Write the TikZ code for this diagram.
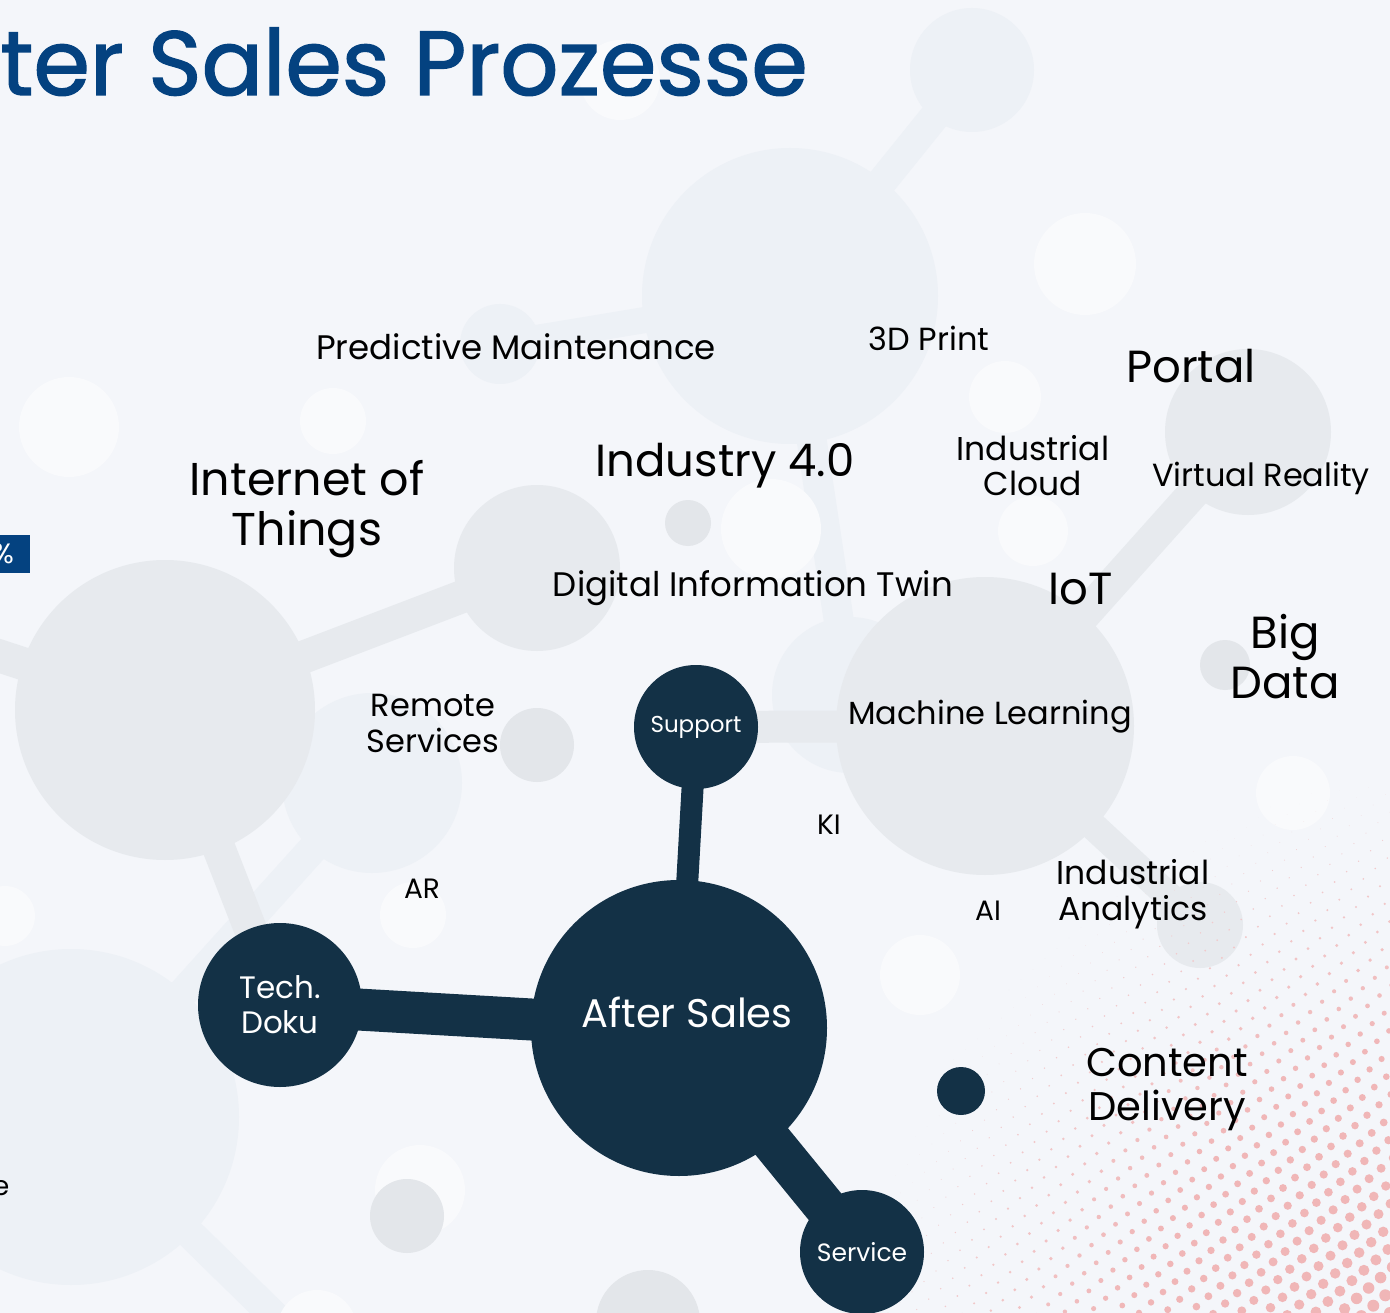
\documentclass[tikz,border=0pt]{standalone}
\usepackage{fontspec}
\setmainfont{Poppins}
\newfontfamily\titlefont{Poppins}[FakeBold=1.5]
\usepackage{tikz}

\definecolor{paper}{RGB}{244,246,250}
\definecolor{navy}{RGB}{19,49,70}
\definecolor{titleblue}{RGB}{4,66,128}
\definecolor{molgray}{RGB}{231,234,238}
\definecolor{molpale}{RGB}{237,241,246}
\definecolor{moldark}{RGB}{227,230,234}
\definecolor{molwhite}{RGB}{249,250,252}
\definecolor{dotpink}{RGB}{240,182,183}

\tikzset{
  blob/.style 2 args={circle,fill=#1,inner sep=0pt,minimum size=#2},
  bond/.style 2 args={draw=#1,line width=#2,shorten <=-6pt,shorten >=-6pt},
  hub/.style={circle,fill=navy,text=white,inner sep=0pt,minimum size=#1,align=center},
  hubtxt/.style={text=white,font=\fontsize{40}{44}\selectfont},
  link/.style={draw=navy,line width=#1,shorten <=-8pt,shorten >=-8pt},
  lbl/.style 2 args={font=\fontsize{#1}{#2}\selectfont,align=center,inner sep=0pt},
}

\begin{document}
\begin{tikzpicture}[x=1pt,y=-1pt]
  \useasboundingbox (0,0) rectangle (1390,1313);
  \clip (0,0) rectangle (1390,1313);
  \fill[paper] (0,0) rectangle (1390,1313);

  % pale part of the molecule
  \node[blob={molpale}{296pt}] (hubtop) at (790,296) {};
  \node[blob={molpale}{124pt}] (knobtop) at (972,70) {};
  \node[blob={molpale}{80pt}] (knobpm) at (500,344) {};
  \node[blob={molpale}{156pt}] (knobtwin) at (850,695) {};
  \node[blob={molpale}{180pt}] (knobrs) at (372,783) {};
  \node[blob={molpale}{336pt}] (hubbl) at (71,1117) {};
  \coordinate (offbl) at (360,1400);
  \path
    (hubtop) edge[bond={molpale}{30pt}] (knobtop)
    (hubtop) edge[bond={molpale}{26pt}] (knobpm)
    (hubtop) edge[bond={molpale}{30pt}] (knobtwin)
    (knobrs) edge[bond={molpale}{30pt}] (hubbl)
    (hubbl) edge[bond={molpale}{30pt}] (offbl)
    ;
  \foreach \x/\y/\r [count=\i] in {69/427/50,333/421/33,1085/264/51,1005/397/36,
      1033/531/35,771/529/50,413/915/33,5/916/30,920/975/40,1293/793/37,
      620/80/40,420/1190/45,317/1330/40}
    \node[blob={molwhite}{2*\r pt}] (spot\i) at (\x,\y) {};
  \node[blob={molpale}{44pt}] (knobar) at (404,768) {};

  % grey part of the molecule
  \node[blob={molgray}{300pt}] (hubl) at (165,710) {};
  \node[blob={molgray}{166pt}] (knobiot) at (537,568) {};
  \node[blob={molgray}{298pt}] (hubml) at (985,726) {};
  \node[blob={molgray}{166pt}] (knobvr) at (1248,432) {};
  \node[blob={molgray}{86pt}] (knobia) at (1200,925) {};
  \coordinate (offl) at (-80,630);
  \coordinate (supc) at (696,727);
  \coordinate (tdkc) at (280,1005);
  \path
    (hubl) edge[bond={molgray}{33pt}] (knobiot)
    (hubl) edge[bond={molgray}{33pt}] (offl)
    (hubl) edge[bond={molgray}{33pt}] (tdkc)
    (hubml) edge[bond={molgray}{32pt}] (knobvr)
    (hubml) edge[bond={molgray}{28pt}] (knobia)
    (hubml) edge[bond={molgray}{32pt}] (supc)
    ;
  \foreach \x/\y/\r [count=\i] in {537/745/37,407/1216/37,648/1322/52,688/523/23,1225/665/25}
    \node[blob={moldark}{2*\r pt}] (pip\i) at (\x,\y) {};

  % halftone corner
  \foreach \i in {-38,...,10}{
    \foreach \j in {-33,...,16}{
      \pgfmathsetmacro\px{1390+16.7*\i+4.7*\j}
      \pgfmathsetmacro\py{1313+7.3*\i+17.7*\j}
      \pgfmathsetmacro\dd{veclen(\px-1500,\py-1420)}
      \ifdim\dd pt<655pt
        \pgfmathsetmacro\rr{min(6,6.2*pow((665-\dd)/510,1.2))}
        \pgfmathsetmacro\tone{min(100,55+45*\rr/3)}
        \fill[dotpink!\tone!paper] (\px,\py) circle[radius=\rr pt];
      \fi
    }
  }

  \node[anchor=base east,inner sep=0pt,text=titleblue,font=\titlefont\fontsize{91}{96}\selectfont] (title) at (808,95) {ter Sales Prozesse};
  \node[anchor=east,fill=titleblue,text=white,font=\fontsize{28}{30}\selectfont,minimum height=38pt,inner xsep=16pt] (pct) at (30,554) {\%};
  \node[lbl={27}{30}] (cut) at (1,1188) {e};

  \node[lbl={34}{40}] (predm) at (516,347) {Predictive Maintenance};
  \node[lbl={32}{36}] (print) at (929,338) {3D Print};
  \node[lbl={45}{50}] (portal) at (1191,366) {Portal};
  \node[lbl={45}{50}] (ind) at (725,466) {Industry 4.0};
  \node[lbl={33}{35}] (cloud) at (1033,466) {Industrial\\Cloud};
  \node[lbl={32}{36}] (vr) at (1261,478) {Virtual Reality};
  \node[lbl={46}{50}] (inet) at (307,509) {Internet of\\Things};
  \node[lbl={34}{40}] (twin) at (753,588) {Digital Information Twin};
  \node[lbl={45}{50}] (iot) at (1081,589) {IoT};
  \node[lbl={45}{50}] (bigd) at (1285,657) {Big\\Data};
  \node[lbl={32}{36}] (remote) at (433,723) {Remote\\Services};
  \node[lbl={32}{38}] (mlearn) at (990,717) {Machine Learning};
  \node[lbl={28}{30}] (ki) at (829,825) {KI};
  \node[lbl={28}{30}] (ar) at (422,889) {AR};
  \node[lbl={28}{30}] (ai) at (988,911) {AI};
  \node[lbl={33}{36}] (analytics) at (1133,894) {Industrial\\Analytics};
  \node[lbl={40}{44}] (content) at (1167,1090) {Content\\Delivery};

  \node[hub=124pt,font=\fontsize{23}{26}\selectfont] (sup) at (696,727) {Support};
  \node[hub=296pt,label={[hubtxt,xshift=8pt,yshift=16pt]center:After Sales}] (aft) at (679,1028) {};
  \node[hub=164pt,font=\fontsize{31}{35}\selectfont] (tdk) at (280,1005) {Tech.\\Doku};
  \node[hub=124pt,font=\fontsize{25}{28}\selectfont] (srv) at (862,1252) {Service};
  \node[hub=48pt] (knob) at (961,1091) {};
  \path
    (sup) edge[link=22pt] (aft)
    (tdk) edge[link=42pt] (aft)
    (aft) edge[link=42pt] (srv)
    ;
\end{tikzpicture}
\end{document}
